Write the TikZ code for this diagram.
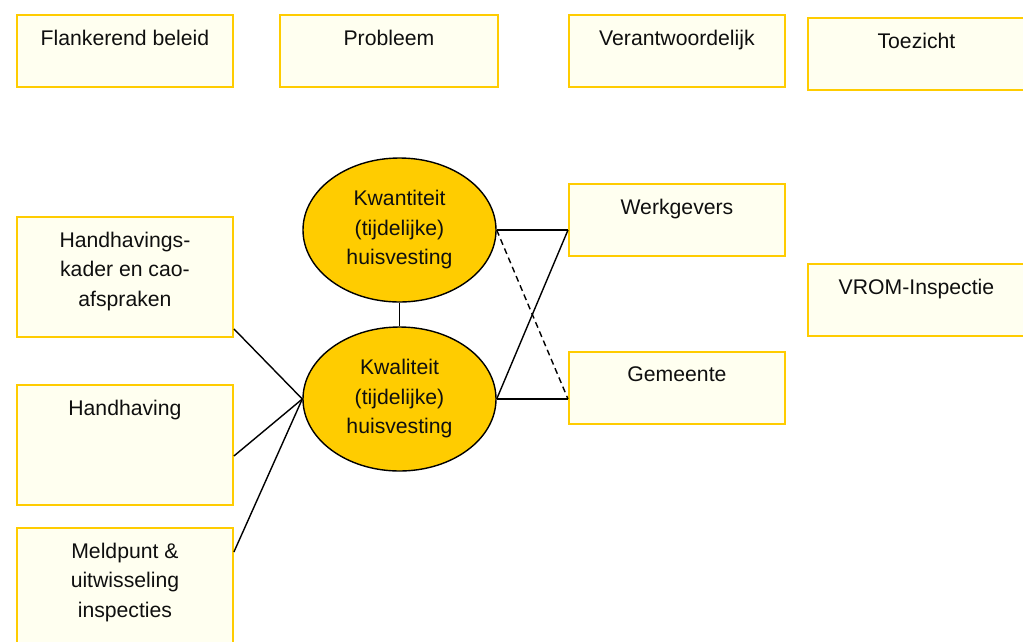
\documentclass[tikz,border=0pt]{standalone}
\usepackage{fontspec}
\setmainfont{Liberation Sans}
\usetikzlibrary{shapes.geometric}
\definecolor{gold}{RGB}{255,204,0}
\definecolor{ivory}{RGB}{255,255,240}
\definecolor{ink}{RGB}{15,15,15}
\begin{document}
\begin{tikzpicture}[x=1pt,y=-1pt,
  box/.style={draw=gold, fill=ivory, line width=1.9pt, minimum width=216pt, minimum height=72pt, inner sep=0pt, anchor=north west},
  lbl/.style={font=\fontsize{21.2}{29.5}\selectfont, text=ink, align=center, anchor=north, inner sep=0pt},
  oval/.style={ellipse, draw=black, fill=gold, line width=1.4pt, minimum width=193pt, minimum height=144pt, inner sep=0pt, text=ink, font=\fontsize{21.2}{29.5}\selectfont, align=center},
  conn/.style={line width=1.4pt, black}]
\useasboundingbox (0,0) rectangle (1023,641);
\clip (0,0) rectangle (1023,641);
% top row
\node[box] (fb) at (16,14) {};
\node[lbl] (fbt) at ([yshift=-15.8pt]fb.north) {Flankerend beleid};
\node[box, minimum width=218pt] (pb) at (279,14) {};
\node[lbl] (pbt) at ([yshift=-15.8pt]pb.north) {Probleem};
\node[box] (vw) at (568,14) {};
\node[lbl] (vwt) at ([yshift=-15.8pt]vw.north) {Verantwoordelijk};
\node[box, minimum width=217pt] (tz) at (807,17) {};
\node[lbl] (tzt) at ([yshift=-15.8pt]tz.north) {Toezicht};
% left column
\node[box, minimum height=120pt] (hk) at (16,216) {};
\node[lbl] (hkt) at ([yshift=-15.8pt]hk.north) {Handhavings-\\kader en cao-\\afspraken};
\node[box, minimum height=120pt] (hh) at (16,384) {};
\node[lbl] (hht) at ([yshift=-15.8pt]hh.north) {Handhaving};
\node[box, minimum height=135pt] (md) at (16,527) {};
\node[lbl] (mdt) at ([yshift=-15.8pt]md.north) {Meldpunt \&\\uitwisseling\\inspecties};
% ellipses
\node[oval] (kwan) at (399.5,230) {Kwantiteit\\(tijdelijke)\\huisvesting};
\node[oval] (kwal) at (399.5,399) {Kwaliteit\\(tijdelijke)\\huisvesting};
% right column
\node[box] (wg) at (568,183) {};
\node[lbl] (wgt) at ([yshift=-15.8pt]wg.north) {Werkgevers};
\node[box] (gm) at (568,351) {};
\node[lbl] (gmt) at ([yshift=-15.8pt]gm.north) {Gemeente};
\node[box, minimum width=217pt] (vr) at (807,263) {};
\node[lbl] (vrt) at ([yshift=-15.8pt]vr.north) {VROM-Inspectie};
% connectors
\draw[conn] ([yshift=9pt]hk.south east) -- (kwal.west);
\draw[conn] ([yshift=-72pt]hh.north east) -- (kwal.west);
\draw[conn] ([yshift=-25pt]md.north east) -- (kwal.west);
\draw[conn] (kwan.south) -- (kwal.north);
\draw[conn] (kwan.east) -- (kwan.east -| wg.west);
\draw[conn] (kwal.east) -- (kwan.east -| wg.west);
\draw[conn] (kwal.east) -- (kwal.east -| gm.west);
\draw[conn, dash pattern=on 6pt off 4pt] (kwan.east) -- (kwal.east -| gm.west);
\end{tikzpicture}
\end{document}
